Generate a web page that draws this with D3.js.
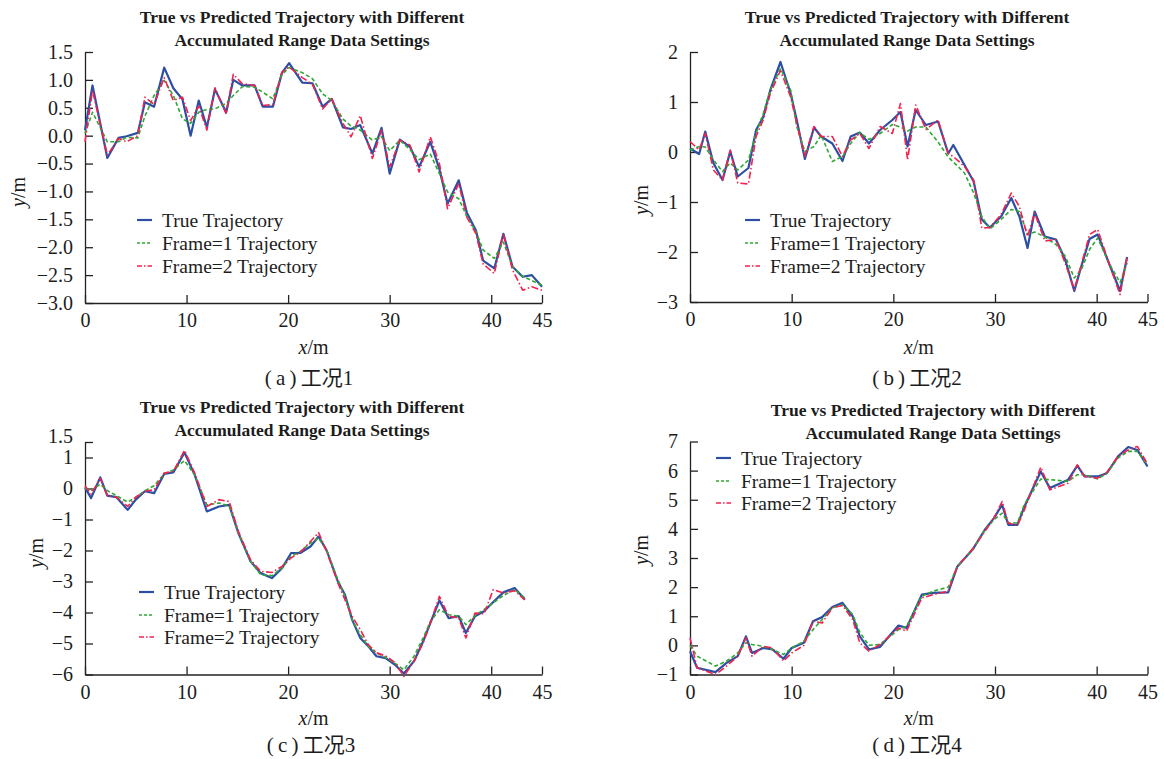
<!DOCTYPE html>
<html>
<head>
<meta charset="utf-8">
<script src="https://cdn.jsdelivr.net/npm/d3@7"></script>
<style>
    body { margin: 0; background: #fff; }
    svg text { font-family: "Liberation Serif", "Times New Roman", serif; fill: #1c1c1c; }
    .tick text { font-size: 20px; }
    .legend text { font-size: 19.5px; }
    .title { font-size: 17.5px; font-weight: bold; }
    .caption { font-size: 21px; }
    .cjk { font-family: "Noto Sans CJK SC", sans-serif; }
</style>
</head>
<body>
<svg id="chart" width="1164" height="759"></svg>
<script>
// shared x ticks
const xTicks = [0, 10, 20, 30, 40, 45];
const seriesNames = ["True Trajectory", "Frame=1 Trajectory", "Frame=2 Trajectory"];

// (a) 工况1
const aX = [0, 0.74, 2.2, 3.3, 4.1, 5.2, 5.9, 6.8, 7.8, 8.7, 9.6, 10.4, 11.2, 12.0, 12.8, 13.9, 14.6, 15.5, 16.7, 17.5,
    18.5, 19.4, 20.1, 21.4, 22.4, 23.4, 24.3, 25.4, 26.2, 27.1, 28.3, 29.2, 30.0, 31.0, 32.0, 32.9, 34.0, 34.9, 35.7, 36.8,
    37.6, 38.5, 39.2, 40.3, 41.2, 42.1, 43.1, 44.0, 45.0];
const aTrue = [0.1, 0.9, -0.4, -0.04, -0.01, 0.05, 0.6, 0.52, 1.22, 0.85, 0.65, 0.0, 0.63, 0.15, 0.83, 0.42, 1.0, 0.9, 0.9, 0.52,
    0.52, 1.13, 1.3, 0.95, 0.94, 0.52, 0.66, 0.15, 0.12, 0.19, -0.32, 0.14, -0.68, -0.07, -0.2, -0.56, -0.11, -0.6, -1.22, -0.8,
    -1.38, -1.7, -2.24, -2.38, -1.76, -2.35, -2.53, -2.5, -2.71];
const aFrame1 = [0.04, 0.42, -0.11, -0.11, -0.03, -0.04, 0.35, 0.72, 0.99, 0.72, 0.3, 0.22, 0.42, 0.47, 0.48, 0.58, 0.72, 0.88, 0.87, 0.78,
    0.66, 1.1, 1.22, 1.13, 1.02, 0.75, 0.63, 0.3, 0.17, 0.1, -0.08, -0.02, -0.27, -0.08, -0.25, -0.43, -0.33, -0.68, -1.01, -1.13,
    -1.45, -1.72, -2.05, -2.2, -1.91, -2.35, -2.52, -2.6, -2.68];
const aFrame2 = [-0.11, 0.81, -0.35, -0.05, -0.11, 0.0, 0.69, 0.56, 1.04, 0.63, 0.69, 0.27, 0.53, 0.1, 0.86, 0.39, 1.1, 0.93, 0.9, 0.54,
    0.56, 1.14, 1.23, 1.04, 0.92, 0.48, 0.66, 0.22, -0.02, 0.36, -0.41, 0.1, -0.56, -0.08, -0.17, -0.65, -0.02, -0.5, -1.31, -0.86,
    -1.46, -1.76, -2.3, -2.47, -1.76, -2.41, -2.77, -2.71, -2.77];
const aYTicks = [1.5, 1.0, 0.5, 0.0, -0.5, -1.0, -1.5, -2.0, -2.5, -3.0];

// (b) 工况2
const bX = [0, 0.9, 1.5, 2.3, 3.2, 3.96, 4.7, 5.75, 6.5, 7.2, 7.9, 8.9, 9.9, 10.5, 11.3, 12.2, 12.9, 14.0, 15.0, 15.8,
    16.7, 17.6, 18.7, 19.9, 20.7, 21.4, 22.2, 23.2, 24.4, 25.4, 25.9, 27.0, 27.9, 28.7, 29.5, 30.6, 31.6, 32.4, 33.2, 33.9,
    34.9, 36.0, 36.9, 37.8, 38.5, 39.3, 40.1, 41.2, 42.3, 43.0];
const bTrue = [0.07, -0.04, 0.41, -0.22, -0.56, 0.01, -0.49, -0.32, 0.44, 0.7, 1.24, 1.8, 1.17, 0.64, -0.14, 0.49, 0.31, 0.17, -0.18, 0.31,
    0.39, 0.17, 0.44, 0.64, 0.8, 0.11, 0.84, 0.54, 0.61, -0.03, 0.14, -0.26, -0.59, -1.35, -1.51, -1.29, -0.92, -1.29, -1.92, -1.19,
    -1.69, -1.75, -2.15, -2.78, -2.28, -1.74, -1.65, -2.22, -2.78, -2.1];
const bFrame1 = [0.04, 0.11, 0.1, -0.16, -0.39, -0.22, -0.36, -0.16, 0.37, 0.77, 1.24, 1.67, 1.24, 0.51, 0.01, 0.11, 0.34, -0.19, -0.09, 0.17,
    0.39, 0.25, 0.37, 0.55, 0.5, 0.42, 0.5, 0.5, 0.2, -0.1, -0.2, -0.42, -0.82, -1.29, -1.54, -1.35, -1.15, -1.19, -1.65, -1.6,
    -1.7, -1.85, -2.08, -2.52, -2.35, -1.95, -1.72, -2.22, -2.61, -2.22];
const bFrame2 = [0.21, 0.04, 0.37, -0.36, -0.56, 0.04, -0.62, -0.64, 0.31, 0.64, 1.17, 1.63, 1.1, 0.57, -0.09, 0.51, 0.31, 0.31, -0.09, 0.24,
    0.37, 0.07, 0.51, 0.37, 0.97, -0.16, 0.94, 0.45, 0.64, -0.03, -0.09, -0.29, -0.56, -1.52, -1.51, -1.25, -0.82, -1.09, -1.69, -1.22,
    -1.78, -1.75, -2.22, -2.75, -2.25, -1.65, -1.55, -2.22, -2.85, -2.08];
const bYTicks = [2, 1, 0, -1, -2, -3];

// (c) 工况3
const cX = [0, 0.6, 1.5, 2.2, 3.1, 4.2, 5.0, 5.9, 6.8, 7.8, 8.7, 9.8, 10.8, 12.0, 13.2, 14.2, 15.1, 16.3, 17.3, 18.4,
    19.4, 20.3, 21.2, 22.2, 23.0, 23.8, 24.9, 25.6, 26.3, 27.1, 27.9, 28.7, 29.6, 30.5, 31.4, 32.4, 33.3, 34.0, 34.9, 35.8,
    36.8, 37.5, 38.4, 39.3, 40.2, 41.2, 42.3, 43.3];
const cTrue = [0.03, -0.31, 0.36, -0.23, -0.28, -0.69, -0.36, -0.09, -0.15, 0.47, 0.52, 1.16, 0.44, -0.74, -0.58, -0.53, -1.44, -2.35, -2.73, -2.89,
    -2.57, -2.08, -2.08, -1.87, -1.55, -2.0, -3.0, -3.43, -4.23, -4.82, -5.09, -5.41, -5.47, -5.68, -5.97, -5.57, -4.93, -4.34, -3.61, -4.18,
    -4.12, -4.66, -4.12, -3.96, -3.66, -3.35, -3.21, -3.57];
const cFrame1 = [0.0, -0.07, 0.14, -0.07, -0.23, -0.44, -0.28, -0.07, 0.09, 0.47, 0.6, 0.9, 0.44, -0.53, -0.47, -0.56, -1.44, -2.35, -2.78, -2.81,
    -2.57, -2.19, -2.03, -1.76, -1.6, -2.0, -2.94, -3.48, -4.23, -4.71, -5.1, -5.3, -5.45, -5.63, -5.85, -5.41, -4.82, -4.3, -3.91, -4.07,
    -4.12, -4.39, -4.1, -3.9, -3.69, -3.45, -3.26, -3.53];
const cFrame2 = [0.09, -0.18, 0.33, -0.23, -0.28, -0.58, -0.28, -0.09, -0.04, 0.5, 0.55, 1.23, 0.5, -0.58, -0.36, -0.42, -1.38, -2.3, -2.67, -2.71,
    -2.51, -2.24, -2.06, -1.71, -1.42, -2.03, -3.05, -3.59, -4.12, -4.55, -5.04, -5.3, -5.4, -5.61, -6.06, -5.57, -4.98, -4.34, -3.48, -4.12,
    -4.17, -4.82, -4.02, -4.04, -3.26, -3.37, -3.3, -3.59];
const cYTicks = [1.5, 1, 0, -1, -2, -3, -4, -5, -6];

// (d) 工况4
const dX = [0, 0.7, 2.5, 3.6, 4.7, 5.5, 6.1, 7.2, 8.1, 9.2, 10.0, 11.2, 12.1, 13.0, 14.0, 15.0, 16.0, 16.7, 17.6, 18.7,
    20.5, 21.3, 22.8, 23.9, 25.4, 26.3, 27.8, 29.0, 29.9, 30.7, 31.3, 32.2, 32.9, 34.5, 35.4, 37.2, 38.1, 38.8, 40.1, 41.0,
    42.1, 43.1, 44.0, 45.0];
const dTrue = [-0.2, -0.77, -0.92, -0.6, -0.37, 0.31, -0.26, -0.09, -0.14, -0.46, -0.09, 0.09, 0.83, 0.97, 1.32, 1.46, 1.0, 0.31, -0.14, -0.05,
    0.68, 0.6, 1.74, 1.8, 1.82, 2.71, 3.29, 3.97, 4.37, 4.83, 4.14, 4.14, 4.77, 5.97, 5.4, 5.69, 6.17, 5.8, 5.8, 5.91,
    6.49, 6.81, 6.71, 6.14];
const dFrame1 = [0.0, -0.37, -0.71, -0.54, -0.26, 0.09, 0.03, -0.03, -0.14, -0.31, -0.09, 0.14, 0.54, 0.89, 1.29, 1.4, 1.06, 0.45, 0.0, 0.03,
    0.54, 0.66, 1.69, 1.86, 2.0, 2.71, 3.29, 3.97, 4.31, 4.54, 4.2, 4.2, 4.85, 5.71, 5.69, 5.63, 5.86, 5.86, 5.71, 5.91,
    6.43, 6.66, 6.66, 6.2];
const dFrame2 = [0.26, -0.77, -1.0, -0.71, -0.37, 0.26, -0.37, -0.03, -0.09, -0.54, -0.26, 0.0, 0.83, 0.77, 1.29, 1.37, 0.89, 0.09, -0.2, 0.03,
    0.6, 0.49, 1.63, 1.74, 1.86, 2.71, 3.31, 3.91, 4.37, 4.94, 4.2, 4.11, 4.66, 6.12, 5.34, 5.57, 6.2, 5.8, 5.74, 5.94,
    6.49, 6.71, 6.83, 6.23];
const dYTicks = [7, 6, 5, 4, 3, 2, 1, 0, -1];

// line styles for the 3 series (true, frame=1, frame=2)
const styles = [
    { color: "#2c4fa3", width: 2.2, dash: null },
    { color: "#2fa834", width: 1.6, dash: "4,2.5" },
    { color: "#f1224f", width: 1.6, dash: "7,2.5,1.5,2.5" }
];

// layout of each panel (pixel positions)
const panels = [
    { xs: aX, ys: [aTrue, aFrame1, aFrame2], yTicks: aYTicks, yDomain: [-3, 1.5], fmt: d3.format(".1f"),
      xr: [85, 542], yr: [303, 52], titleX: 302, titleY: [17, 40], legX: 137, legY: [220, 243, 266],
      yLabX: 18, yLabY: 192, xLabY: 347, capX: 309, capY: 378, cap: "a", num: "1" },
    { xs: bX, ys: [bTrue, bFrame1, bFrame2], yTicks: bYTicks, yDomain: [-3, 2], fmt: d3.format("d"),
      xr: [690, 1147.5], yr: [302, 52], titleX: 907, titleY: [17, 40], legX: 745, legY: [220, 243, 266],
      yLabX: 641, yLabY: 200, xLabY: 347, capX: 917, capY: 378, cap: "b", num: "2" },
    { xs: cX, ys: [cTrue, cFrame1, cFrame2], yTicks: cYTicks, yDomain: [-6, 1.5],
      fmt: d => Number.isInteger(d) ? d3.format("d")(d) : d3.format(".1f")(d),
      xr: [85, 542], yr: [674.5, 442], titleX: 302, titleY: [407, 430], legX: 139, legY: [592, 615, 637],
      yLabX: 36, yLabY: 553, xLabY: 718, capX: 311, capY: 745, cap: "c", num: "3" },
    { xs: dX, ys: [dTrue, dFrame1, dFrame2], yTicks: dYTicks, yDomain: [-1, 7], fmt: d3.format("d"),
      xr: [690, 1147.5], yr: [674.5, 441.5], titleX: 933, titleY: [410, 433], legX: 716, legY: [458, 481, 503],
      yLabX: 641, yLabY: 550, xLabY: 718, capX: 917, capY: 745, cap: "d", num: "4" }
];

const svg = d3.select("#chart");

panels.forEach(p => {
    const g = svg.append("g");
    const x = d3.scaleLinear().domain([0, 45]).range(p.xr);
    const y = d3.scaleLinear().domain(p.yDomain).range(p.yr);

    // axes: only left + bottom, ticks pointing inside
    const xAxis = g.append("g")
        .attr("transform", `translate(0,${p.yr[0]})`)
        .call(d3.axisBottom(x).tickValues(xTicks).tickSizeInner(-8).tickSizeOuter(0).tickPadding(10).tickFormat(d3.format("d")));
    const yAxis = g.append("g")
        .attr("transform", `translate(${p.xr[0]},0)`)
        .call(d3.axisLeft(y).tickValues(p.yTicks).tickSizeInner(-8).tickSizeOuter(0).tickPadding(12).tickFormat(p.fmt));
    [xAxis, yAxis].forEach(ax => {
        ax.attr("font-size", null).attr("font-family", null);
        ax.selectAll("path, line").attr("stroke", "#222").attr("stroke-width", 1.3);
    });
    // the 1.5 label sits a little above its tick when the next tick is only half a step away
    yAxis.selectAll(".tick text")
        .filter((d, i) => i === 0 && Math.abs(p.yTicks[0] - p.yTicks[1]) < Math.abs(p.yTicks[1] - p.yTicks[2]))
        .attr("dy", "0.0em");

    // the three trajectories
    p.ys.forEach((vals, k) => {
        const line = d3.line().x((d, i) => x(p.xs[i])).y(d => y(d));
        g.append("path")
            .datum(vals)
            .attr("d", line)
            .attr("fill", "none")
            .attr("stroke", styles[k].color)
            .attr("stroke-width", styles[k].width)
            .attr("stroke-dasharray", styles[k].dash)
            .attr("stroke-linejoin", "round");
    });

    // title (two lines)
    const title = g.append("text").attr("class", "title").attr("text-anchor", "middle");
    ["True vs Predicted Trajectory with Different", "Accumulated Range Data Settings"].forEach((t, i) => {
        title.append("tspan").attr("x", p.titleX).attr("y", p.titleY[i]).attr("dy", "0.35em").text(t);
    });

    // legend
    const leg = g.append("g").attr("class", "legend");
    seriesNames.forEach((name, k) => {
        leg.append("line")
            .attr("x1", p.legX).attr("x2", p.legX + 15)
            .attr("y1", p.legY[k]).attr("y2", p.legY[k])
            .attr("stroke", styles[k].color)
            .attr("stroke-width", styles[k].width)
            .attr("stroke-dasharray", k === 0 ? null : (k === 1 ? "3,2" : "5,2,1.5,2"));
        leg.append("text")
            .attr("x", p.legX + 25).attr("y", p.legY[k]).attr("dy", "0.35em")
            .text(name);
    });

    // axis labels
    const xl = g.append("text").attr("text-anchor", "middle")
        .attr("x", (p.xr[0] + p.xr[1]) / 2).attr("y", p.xLabY).attr("dy", "0.35em")
        .style("font-size", "20px");
    xl.append("tspan").style("font-style", "italic").text("x");
    xl.append("tspan").text("/m");

    const yl = g.append("text").attr("text-anchor", "middle")
        .attr("transform", `translate(${p.yLabX},${p.yLabY}) rotate(-90)`).attr("dy", "0.35em")
        .style("font-size", "20px");
    yl.append("tspan").style("font-style", "italic").text("y");
    yl.append("tspan").text("/m");

    // caption
    const cap = g.append("text").attr("class", "caption").attr("text-anchor", "middle")
        .attr("x", p.capX).attr("y", p.capY).attr("dy", "0.35em");
    cap.append("tspan").text(`(\u2009${p.cap}\u2009)\u2009`);
    cap.append("tspan").attr("class", "cjk").text("工况");
    cap.append("tspan").text(p.num);
});
</script>
</body>
</html>
